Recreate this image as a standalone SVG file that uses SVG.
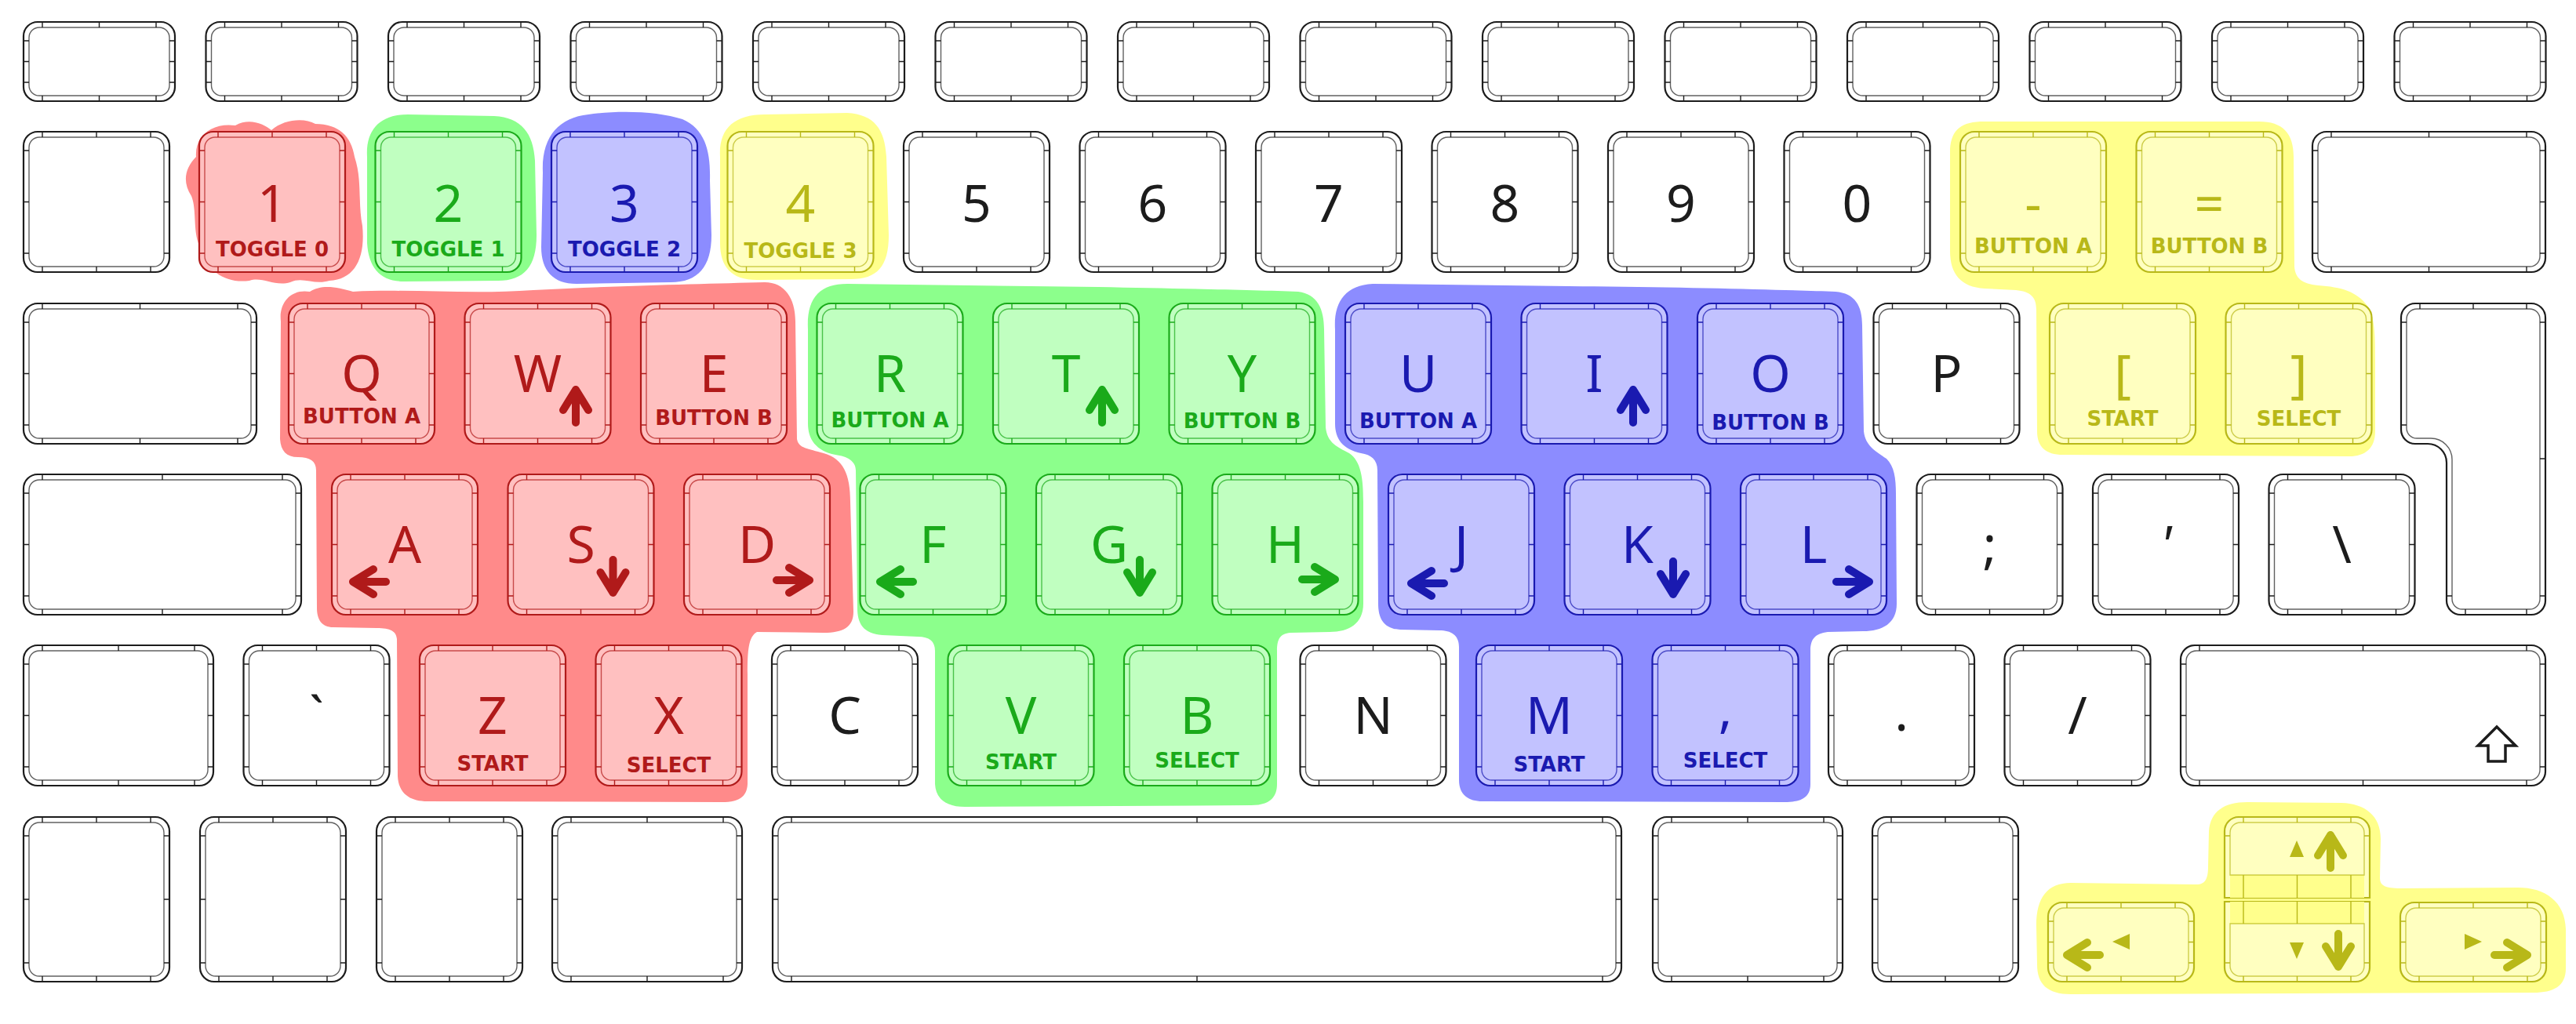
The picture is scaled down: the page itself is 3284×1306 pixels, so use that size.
<svg xmlns="http://www.w3.org/2000/svg" width="3284" height="1306" viewBox="0 0 3284 1306">
<style>
.o{stroke:currentColor;stroke-width:2.2}
.i{fill:none;stroke:currentColor;stroke-width:1.4;stroke-opacity:.7}
.t{fill:none;stroke:currentColor;stroke-width:1.4}
.a{fill:none;stroke:currentColor;stroke-width:10;stroke-linecap:round;stroke-linejoin:round}
.pl{color:#1c1c1c;fill:#fff}
.rd{color:#b01a1a;fill:#ffc0c0}
.gn{color:#1aaa1a;fill:#c0ffc0}
.bl{color:#1a1ab0;fill:#c2c2ff}
.yl{color:#b8b818;fill:#ffffc0}
.L{font-family:"Noto Sans","DejaVu Sans",sans-serif;font-size:66px;text-anchor:middle}
.S{font-family:"DejaVu Sans",sans-serif;font-weight:bold;font-size:26px;text-anchor:middle}
.cp{fill:#1c1c1c}.cr{fill:#b01a1a}.cg{fill:#1aaa1a}.cb{fill:#1a1ab0}.cy{fill:#b8b818}
</style>
<defs>
<g id="kF"><rect class="o" width="193" height="101" rx="18"/><rect class="i" x="7" y="7" width="179" height="87" rx="13"/><path class="t" d="M24,0V7M96.5,0V7M169,0V7M24,94V101M96.5,94V101M169,94V101M0,24H7M0,50.5H7M0,77H7M186,24H193M186,50.5H193M186,77H193"/></g>
<g id="kS"><rect class="o" width="186" height="179" rx="18"/><rect class="i" x="7" y="7" width="172" height="165" rx="13"/><path class="t" d="M24,0V7M93,0V7M162,0V7M24,172V179M93,172V179M162,172V179M0,24H7M0,89.5H7M0,155H7M179,24H186M179,89.5H186M179,155H186"/></g>
<g id="kBS"><rect class="o" width="297" height="179" rx="18"/><rect class="i" x="7" y="7" width="283" height="165" rx="13"/><path class="t" d="M24,0V7M148.5,0V7M273,0V7M24,172V179M148.5,172V179M273,172V179M0,24H7M0,89.5H7M0,155H7M290,24H297M290,89.5H297M290,155H297"/></g>
<g id="kCaps"><rect class="o" width="354" height="179" rx="18"/><rect class="i" x="7" y="7" width="340" height="165" rx="13"/><path class="t" d="M24,0V7M177,0V7M330,0V7M24,172V179M177,172V179M330,172V179M0,24H7M0,89.5H7M0,155H7M347,24H354M347,89.5H354M347,155H354"/></g>
<g id="kLS"><rect class="o" width="242" height="179" rx="18"/><rect class="i" x="7" y="7" width="228" height="165" rx="13"/><path class="t" d="M24,0V7M121,0V7M218,0V7M24,172V179M121,172V179M218,172V179M0,24H7M0,89.5H7M0,155H7M235,24H242M235,89.5H242M235,155H242"/></g>
<g id="kRS"><rect class="o" width="465" height="179" rx="18"/><rect class="i" x="7" y="7" width="451" height="165" rx="13"/><path class="t" d="M24,0V7M232.5,0V7M441,0V7M24,172V179M232.5,172V179M441,172V179M0,24H7M0,89.5H7M0,155H7M458,24H465M458,89.5H465M458,155H465"/></g>
<g id="kB"><rect class="o" width="186" height="210" rx="18"/><rect class="i" x="7" y="7" width="172" height="196" rx="13"/><path class="t" d="M24,0V7M93,0V7M162,0V7M24,203V210M93,203V210M162,203V210M0,24H7M0,105H7M0,186H7M179,24H186M179,105H186M179,186H186"/></g>
<g id="kB2"><rect class="o" width="242" height="210" rx="18"/><rect class="i" x="7" y="7" width="228" height="196" rx="13"/><path class="t" d="M24,0V7M121,0V7M218,0V7M24,203V210M121,203V210M218,203V210M0,24H7M0,105H7M0,186H7M235,24H242M235,105H242M235,186H242"/></g>
<g id="kSp"><rect class="o" width="1082" height="210" rx="18"/><rect class="i" x="7" y="7" width="1068" height="196" rx="13"/><path class="t" d="M24,0V7M541,0V7M1058,0V7M24,203V210M541,203V210M1058,203V210M0,24H7M0,105H7M0,186H7M1075,24H1082M1075,105H1082M1075,186H1082"/></g>
<g id="kA"><rect class="o" width="186" height="101" rx="18"/><rect class="i" x="7" y="7" width="172" height="87" rx="13"/><path class="t" d="M24,0V7M93,0V7M162,0V7M24,94V101M93,94V101M162,94V101M0,24H7M0,50.5H7M0,77H7M179,24H186M179,50.5H186M179,77H186"/></g>
<path id="aU" class="a" d="M-16,26L0,0L16,26M0,0V42"/>
<path id="aD" class="a" d="M-16,-26L0,0L16,-26M0,0V-42"/>
<path id="aL" class="a" d="M26,-16L0,0L26,16M0,0H42"/>
<path id="aR" class="a" d="M-26,-16L0,0L-26,16M0,0H-42"/>
</defs>
<rect width="3284" height="1306" fill="#fff"/>
<g id="highlights">
<path id="hl-toggle0" fill="#ff8a8a" d="M250,200 C248,172 272,156 300,160 C318,150 336,158 346,166 C362,152 388,150 402,158 C432,158 448,174 452,200 C462,230 456,258 462,288 C466,330 452,356 420,358 C400,364 386,352 370,360 C350,366 334,352 318,358 C288,362 264,346 258,320 C244,300 252,270 244,250 C232,232 236,214 250,200 Z"/>
<path id="hl-toggle1" fill="#8cff8c" d="M468,200 C466,165 485,146 520,146 L630,148 C665,150 680,170 682,205 L684,300 C684,340 668,358 635,358 L515,359 C485,359 470,342 468,310 Z"/>
<path id="hl-toggle2" fill="#8c8cff" d="M692,220 C690,175 712,150 750,146 C790,140 840,142 870,152 C900,165 906,195 905,230 L907,300 C907,340 890,360 855,360 L735,362 C705,362 690,345 690,315 Z"/>
<path id="hl-toggle3" fill="#ffff8c" d="M918,200 C916,165 935,146 975,146 L1080,144 C1115,146 1128,165 1130,200 L1133,300 C1133,340 1118,356 1085,356 L965,357 C932,357 918,340 918,310 Z"/>
<path id="hl-red" fill="#ff8a8a" d="M358,410 C355,385 372,368 395,372 C410,362 430,366 450,372 C520,368 600,376 680,370 C800,364 900,362 975,360 C1000,360 1014,380 1014,410 L1016,560 C1018,572 1030,572 1050,578 C1075,585 1084,605 1084,640 L1088,780 C1088,800 1075,807 1050,807 L965,806 C954,812 953,830 953,860 L953,1000 C952,1018 940,1023 920,1023 L545,1022 C520,1022 508,1010 507,990 L506,815 C505,805 498,801 480,801 L425,800 C410,800 404,790 404,775 L403,600 C403,588 395,583 380,583 C365,583 358,575 357,560 Z"/>
<path id="hl-green" fill="#8cff8c" d="M1030,420 C1028,380 1045,362 1080,362 L1400,366 C1500,368 1600,370 1655,372 C1680,375 1688,395 1688,420 L1690,545 C1692,565 1705,570 1720,578 C1735,588 1738,610 1738,640 L1738,770 C1738,795 1720,806 1695,806 L1645,807 C1632,808 1628,815 1628,830 L1628,1000 C1628,1020 1615,1027 1595,1027 L1230,1029 C1205,1029 1193,1018 1192,1000 L1192,830 C1192,818 1185,812 1170,812 L1125,810 C1100,808 1093,795 1093,775 L1091,600 C1091,588 1080,582 1065,580 C1040,575 1030,560 1030,540 Z"/>
<path id="hl-blue" fill="#8c8cff" d="M1702,420 C1700,385 1715,364 1750,362 L2000,365 C2150,366 2280,370 2340,372 C2365,374 2374,390 2374,415 L2376,550 C2378,568 2390,575 2405,585 C2415,595 2417,610 2417,630 L2418,770 C2418,795 2400,805 2375,805 L2330,806 C2314,808 2308,815 2308,830 L2308,1000 C2308,1018 2295,1023 2275,1023 L1890,1022 C1868,1022 1860,1010 1860,995 L1860,825 C1860,810 1850,804 1835,804 L1785,803 C1765,802 1757,790 1757,770 L1756,600 C1756,586 1748,580 1735,578 C1712,573 1702,560 1702,540 Z"/>
<path id="hl-yellow-top" fill="#ffff8c" d="M2486,190 C2488,165 2500,155 2530,155 L2880,155 C2910,155 2924,170 2924,200 L2925,340 C2926,355 2935,362 2955,364 C2985,366 3005,372 3018,390 C3028,405 3028,430 3028,460 L3028,550 C3028,572 3015,582 2995,582 L2630,580 C2608,580 2597,570 2597,550 L2596,395 C2596,378 2588,372 2570,370 L2530,368 C2500,366 2486,350 2486,320 Z"/>
<path id="hl-yellow-arrows" fill="#ffff8c" d="M2596,1180 C2596,1145 2610,1126 2640,1126 L2800,1128 C2812,1128 2815,1120 2815,1105 L2816,1060 C2818,1035 2835,1023 2865,1023 L2985,1024 C3015,1025 3035,1040 3035,1070 L3034,1120 C3034,1130 3042,1133 3060,1133 L3210,1132 C3245,1132 3270,1150 3271,1185 L3271,1235 C3271,1258 3255,1266 3230,1266 L2640,1268 C2610,1268 2597,1255 2597,1230 Z"/>
</g>
<g id="keys">
<g id="f0"><use href="#kF" x="30" y="28" class="pl"/></g>
<g id="f1"><use href="#kF" x="262.5" y="28" class="pl"/></g>
<g id="f2"><use href="#kF" x="495" y="28" class="pl"/></g>
<g id="f3"><use href="#kF" x="727.5" y="28" class="pl"/></g>
<g id="f4"><use href="#kF" x="960" y="28" class="pl"/></g>
<g id="f5"><use href="#kF" x="1192.5" y="28" class="pl"/></g>
<g id="f6"><use href="#kF" x="1425" y="28" class="pl"/></g>
<g id="f7"><use href="#kF" x="1657.5" y="28" class="pl"/></g>
<g id="f8"><use href="#kF" x="1890" y="28" class="pl"/></g>
<g id="f9"><use href="#kF" x="2122.5" y="28" class="pl"/></g>
<g id="f10"><use href="#kF" x="2355" y="28" class="pl"/></g>
<g id="f11"><use href="#kF" x="2587.5" y="28" class="pl"/></g>
<g id="f12"><use href="#kF" x="2820" y="28" class="pl"/></g>
<g id="f13"><use href="#kF" x="3052.5" y="28" class="pl"/></g>

<g id="key-tilde-blank"><use href="#kS" x="30" y="168" class="pl"/></g>
<g id="key-1"><use href="#kS" x="254" y="168" class="rd"/><text class="L cr" x="347" y="283">1</text><text class="S cr" x="347" y="327">TOGGLE 0</text></g>
<g id="key-2"><use href="#kS" x="478.5" y="168" class="gn"/><text class="L cg" x="571.5" y="283">2</text><text class="S cg" x="571.5" y="327">TOGGLE 1</text></g>
<g id="key-3"><use href="#kS" x="703" y="168" class="bl"/><text class="L cb" x="796" y="283">3</text><text class="S cb" x="796" y="327">TOGGLE 2</text></g>
<g id="key-4"><use href="#kS" x="927.5" y="168" class="yl"/><text class="L cy" x="1020.5" y="283">4</text><text class="S cy" x="1020.5" y="329">TOGGLE 3</text></g>
<g id="key-5"><use href="#kS" x="1152" y="168" class="pl"/><text class="L cp" x="1245" y="283">5</text></g>
<g id="key-6"><use href="#kS" x="1376.5" y="168" class="pl"/><text class="L cp" x="1469.5" y="283">6</text></g>
<g id="key-7"><use href="#kS" x="1601" y="168" class="pl"/><text class="L cp" x="1694" y="283">7</text></g>
<g id="key-8"><use href="#kS" x="1825.5" y="168" class="pl"/><text class="L cp" x="1918.5" y="283">8</text></g>
<g id="key-9"><use href="#kS" x="2050" y="168" class="pl"/><text class="L cp" x="2143" y="283">9</text></g>
<g id="key-0"><use href="#kS" x="2274.5" y="168" class="pl"/><text class="L cp" x="2367.5" y="283">0</text></g>
<g id="key-minus"><use href="#kS" x="2499" y="168" class="yl"/><text class="L cy" x="2592" y="283">-</text><text class="S cy" x="2592" y="323">BUTTON A</text></g>
<g id="key-equals"><use href="#kS" x="2723.5" y="168" class="yl"/><text class="L cy" x="2816.5" y="283">=</text><text class="S cy" x="2816.5" y="323">BUTTON B</text></g>
<g id="key-backspace"><use href="#kBS" x="2948" y="168" class="pl"/></g>

<g id="key-tab"><use href="#kBS" x="30" y="387" class="pl"/></g>
<g id="key-q"><use href="#kS" x="368" y="387" class="rd"/><text class="L cr" x="461" y="500">Q</text><text class="S cr" x="461" y="540">BUTTON A</text></g>
<g id="key-w"><use href="#kS" x="592.5" y="387" class="rd"/><text class="L cr" x="685.5" y="500">W</text><use href="#aU" x="734" y="497" class="rd"/></g>
<g id="key-e"><use href="#kS" x="817" y="387" class="rd"/><text class="L cr" x="910" y="500">E</text><text class="S cr" x="910" y="542">BUTTON B</text></g>
<g id="key-r"><use href="#kS" x="1041.5" y="387" class="gn"/><text class="L cg" x="1134.5" y="500">R</text><text class="S cg" x="1134.5" y="545">BUTTON A</text></g>
<g id="key-t"><use href="#kS" x="1266" y="387" class="gn"/><text class="L cg" x="1359" y="500">T</text><use href="#aU" x="1405" y="497" class="gn"/></g>
<g id="key-y"><use href="#kS" x="1490.5" y="387" class="gn"/><text class="L cg" x="1583.5" y="500">Y</text><text class="S cg" x="1583.5" y="546">BUTTON B</text></g>
<g id="key-u"><use href="#kS" x="1715" y="387" class="bl"/><text class="L cb" x="1808" y="500">U</text><text class="S cb" x="1808" y="546">BUTTON A</text></g>
<g id="key-i"><use href="#kS" x="1939.5" y="387" class="bl"/><text class="L cb" x="2032.5" y="500">I</text><use href="#aU" x="2082" y="497" class="bl"/></g>
<g id="key-o"><use href="#kS" x="2164" y="387" class="bl"/><text class="L cb" x="2257" y="500">O</text><text class="S cb" x="2257" y="548">BUTTON B</text></g>
<g id="key-p"><use href="#kS" x="2388.5" y="387" class="pl"/><text class="L cp" x="2481.5" y="500">P</text></g>
<g id="key-lbracket"><use href="#kS" x="2613" y="387" class="yl"/><text class="L cy" x="2706" y="500">[</text><text class="S cy" x="2706" y="543">START</text></g>
<g id="key-rbracket"><use href="#kS" x="2837.5" y="387" class="yl"/><text class="L cy" x="2930.5" y="500">]</text><text class="S cy" x="2930.5" y="543">SELECT</text></g>
<g id="key-enter" class="pl">
<path class="o" d="M3079,387 H3227 A18,18 0 0 1 3245,405 V766 A18,18 0 0 1 3227,784 H3137 A18,18 0 0 1 3119,766 V590 A24,24 0 0 0 3095,566 H3079 A18,18 0 0 1 3061,548 V405 A18,18 0 0 1 3079,387 Z"/>
<path class="i" d="M3081,394 H3225 A13,13 0 0 1 3238,407 V764 A13,13 0 0 1 3225,777 H3139 A13,13 0 0 1 3126,764 V586 A27,27 0 0 0 3099,559 H3081 A13,13 0 0 1 3068,546 V407 A13,13 0 0 1 3081,394 Z"/>
<path class="t" d="M3085,387V394M3153,387V394M3221,387V394M3143,777V784M3221,777V784M3238,411H3245M3238,585H3245M3238,760H3245M3061,411H3068M3061,542H3068M3119,760H3126"/>
</g>

<g id="key-caps"><use href="#kCaps" x="30" y="605" class="pl"/></g>
<g id="key-a"><use href="#kS" x="423" y="605" class="rd"/><text class="L cr" x="516" y="718">A</text><use href="#aL" x="450" y="742" class="rd"/></g>
<g id="key-s"><use href="#kS" x="647.5" y="605" class="rd"/><text class="L cr" x="740.5" y="718">S</text><use href="#aD" x="781.5" y="756" class="rd"/></g>
<g id="key-d"><use href="#kS" x="872" y="605" class="rd"/><text class="L cr" x="965" y="718">D</text><use href="#aR" x="1032" y="740" class="rd"/></g>
<g id="key-f"><use href="#kS" x="1096.5" y="605" class="gn"/><text class="L cg" x="1189.5" y="718">F</text><use href="#aL" x="1122" y="742" class="gn"/></g>
<g id="key-g"><use href="#kS" x="1321" y="605" class="gn"/><text class="L cg" x="1414" y="718">G</text><use href="#aD" x="1453" y="756" class="gn"/></g>
<g id="key-h"><use href="#kS" x="1545.5" y="605" class="gn"/><text class="L cg" x="1638.5" y="718">H</text><use href="#aR" x="1702" y="739" class="gn"/></g>
<g id="key-j"><use href="#kS" x="1770" y="605" class="bl"/><text class="L cb" x="1863" y="718">J</text><use href="#aL" x="1799" y="744" class="bl"/></g>
<g id="key-k"><use href="#kS" x="1994.5" y="605" class="bl"/><text class="L cb" x="2087.5" y="718">K</text><use href="#aD" x="2133" y="758" class="bl"/></g>
<g id="key-l"><use href="#kS" x="2219" y="605" class="bl"/><text class="L cb" x="2312" y="718">L</text><use href="#aR" x="2383" y="742" class="bl"/></g>
<g id="key-semicolon"><use href="#kS" x="2443.5" y="605" class="pl"/><text class="L cp" x="2536.5" y="718">;</text></g>
<g id="key-quote"><use href="#kS" x="2668" y="605" class="pl"/><text class="L cp" x="2761" y="718" style="font-style:oblique 18deg">'</text></g>
<g id="key-backslash"><use href="#kS" x="2892.5" y="605" class="pl"/><text class="L cp" x="2985.5" y="718">\</text></g>

<g id="key-lshift"><use href="#kLS" x="30" y="823" class="pl"/></g>
<g id="key-grave"><use href="#kS" x="310.5" y="823" class="pl"/><text class="L cp" x="403.5" y="936">`</text></g>
<g id="key-z"><use href="#kS" x="535" y="823" class="rd"/><text class="L cr" x="628" y="936">Z</text><text class="S cr" x="628" y="983">START</text></g>
<g id="key-x"><use href="#kS" x="759.5" y="823" class="rd"/><text class="L cr" x="852.5" y="936">X</text><text class="S cr" x="852.5" y="985">SELECT</text></g>
<g id="key-c"><use href="#kS" x="984" y="823" class="pl"/><text class="L cp" x="1077" y="936">C</text></g>
<g id="key-v"><use href="#kS" x="1208.5" y="823" class="gn"/><text class="L cg" x="1301.5" y="936">V</text><text class="S cg" x="1301.5" y="981">START</text></g>
<g id="key-b"><use href="#kS" x="1433" y="823" class="gn"/><text class="L cg" x="1526" y="936">B</text><text class="S cg" x="1526" y="979">SELECT</text></g>
<g id="key-n"><use href="#kS" x="1657.5" y="823" class="pl"/><text class="L cp" x="1750.5" y="936">N</text></g>
<g id="key-m"><use href="#kS" x="1882" y="823" class="bl"/><text class="L cb" x="1975" y="936">M</text><text class="S cb" x="1975" y="984">START</text></g>
<g id="key-comma"><use href="#kS" x="2106.5" y="823" class="bl"/><text class="L cb" x="2199.5" y="928">,</text><text class="S cb" x="2199.5" y="979">SELECT</text></g>
<g id="key-period"><use href="#kS" x="2331" y="823" class="pl"/><text class="L cp" x="2424" y="932">.</text></g>
<g id="key-slash"><use href="#kS" x="2555.5" y="823" class="pl"/><text class="L cp" x="2648.5" y="936">/</text></g>
<g id="key-rshift"><use href="#kRS" x="2780" y="823" class="pl"/><path d="M3183,927 L3207,951 L3194,951 L3194,971 L3172,971 L3172,951 L3159,951 Z" fill="none" stroke="#1c1c1c" stroke-width="3.5"/></g>

<g id="key-fn"><use href="#kB" x="30" y="1042" class="pl"/></g>
<g id="key-ctrl"><use href="#kB" x="255" y="1042" class="pl"/></g>
<g id="key-alt"><use href="#kB" x="480" y="1042" class="pl"/></g>
<g id="key-cmd-l"><use href="#kB2" x="704" y="1042" class="pl"/></g>
<g id="key-space"><use href="#kSp" x="985" y="1042" class="pl"/></g>
<g id="key-cmd-r"><use href="#kB2" x="2107" y="1042" class="pl"/></g>
<g id="key-alt-r"><use href="#kB" x="2387" y="1042" class="pl"/></g>

<g id="key-left"><use href="#kA" x="2611" y="1151" class="yl"/><polygon points="2693,1201 2715,1191 2715,1211" class="cy"/><use href="#aL" x="2635" y="1218" class="yl"/></g>
<g id="key-up" class="yl">
<path class="o" d="M2836,1145 V1060 A18,18 0 0 1 2854,1042 H3003 A18,18 0 0 1 3021,1060 V1145 Z"/>
<rect x="2843" y="1116" width="171" height="29" fill="#ffff8c" stroke="none"/>
<path class="i" d="M2843,1116 V1062 A13,13 0 0 1 2856,1049 H3001 A13,13 0 0 1 3014,1062 V1116 Z"/>
<path class="t" d="M2860,1042V1049M2928.5,1042V1049M2997,1042V1049M2860,1116V1145M2928.5,1116V1145M2997,1116V1145M2836,1066H2843M3014,1066H3021"/>
<polygon points="2928,1072 2937,1093 2919,1093" class="cy"/><use href="#aU" x="2971" y="1065"/>
</g>
<g id="key-down" class="yl">
<path class="o" d="M2836,1150 H3021 V1234 A18,18 0 0 1 3003,1252 H2854 A18,18 0 0 1 2836,1234 Z"/>
<rect x="2843" y="1150" width="171" height="28" fill="#ffff8c" stroke="none"/>
<path class="i" d="M2843,1178 H3014 V1232 A13,13 0 0 1 3001,1245 H2856 A13,13 0 0 1 2843,1232 Z"/>
<path class="t" d="M2860,1150V1178M2928.5,1150V1178M2997,1150V1178M2860,1245V1252M2928.5,1245V1252M2997,1245V1252M2836,1228H2843M3014,1228H3021"/>
<polygon points="2919,1202 2937,1202 2928,1223" class="cy"/><use href="#aD" x="2981" y="1233"/>
</g>
<g id="key-right"><use href="#kA" x="3060" y="1151" class="yl"/><polygon points="3164,1201 3142,1191 3142,1211" class="cy"/><use href="#aR" x="3222" y="1218" class="yl"/></g>
</g>
</svg>
